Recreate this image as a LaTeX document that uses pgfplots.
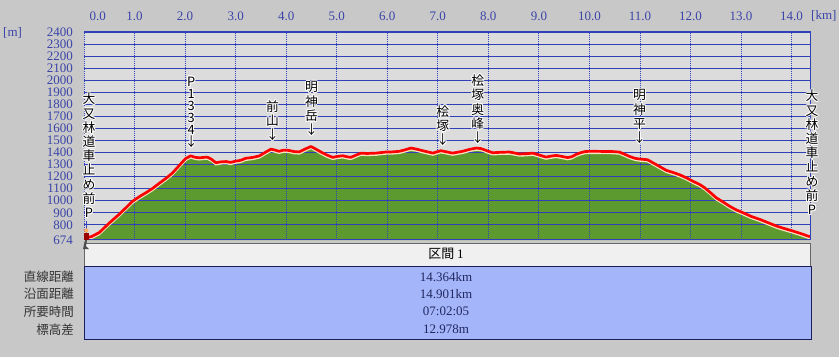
\documentclass[border=0pt]{standalone}
\usepackage{pgfplots}
\usepackage{pgfplotstable}
\pgfplotsset{compat=1.18}
\usepackage{fontspec}
\setmainfont{Liberation Serif}
\newfontfamily\jp{Noto Sans CJK JP}
\definecolor{bgout}{HTML}{C8C8C8}
\definecolor{plotbg}{HTML}{DCDCDC}
\definecolor{gridc}{HTML}{3040B8}
\definecolor{hill}{HTML}{5C9A30}
\definecolor{halo}{HTML}{F5E4C0}
\definecolor{tickc}{HTML}{3A44A8}
\definecolor{tblblue}{HTML}{A5B5F9}
\definecolor{tblhead}{HTML}{F0F0F0}
\definecolor{navy}{HTML}{1A1F5A}
\definecolor{valc}{HTML}{202860}

\pgfplotstableread{
km elev
0 688
0.15 703
0.3 735
0.5 815
0.69 885
0.85 950
0.96 995
1.1 1035
1.22 1065
1.35 1100
1.49 1145
1.62 1185
1.75 1230
1.88 1290
2.01 1350
2.11 1372
2.2 1360
2.28 1356
2.44 1362
2.52 1345
2.61 1315
2.7 1322
2.81 1325
2.9 1318
3.0 1328
3.1 1335
3.2 1352
3.35 1360
3.47 1372
3.58 1400
3.70 1428
3.78 1420
3.86 1410
3.95 1420
4.06 1417
4.15 1408
4.26 1405
4.38 1430
4.49 1450
4.58 1430
4.69 1404
4.8 1380
4.92 1360
5.02 1368
5.12 1373
5.2 1365
5.28 1360
5.38 1378
5.48 1395
5.6 1392
5.78 1395
5.97 1404
6.1 1405
6.24 1410
6.35 1422
6.47 1437
6.58 1428
6.70 1415
6.8 1405
6.90 1395
7.06 1415
7.18 1405
7.29 1395
7.4 1403
7.49 1410
7.62 1425
7.76 1437
7.85 1433
7.92 1423
8.0 1410
8.09 1398
8.25 1402
8.42 1404
8.61 1388
8.75 1390
8.88 1395
9.0 1380
9.14 1362
9.24 1370
9.34 1376
9.45 1368
9.57 1358
9.65 1365
9.74 1385
9.84 1400
9.93 1409
10.1 1410
10.26 1409
10.45 1408
10.59 1404
10.7 1385
10.79 1368
10.9 1352
10.99 1346
11.15 1340
11.32 1300
11.52 1252
11.65 1235
11.78 1216
11.92 1190
12.05 1161
12.18 1135
12.28 1107
12.4 1065
12.51 1024
12.65 988
12.77 955
12.9 925
13.04 900
13.2 870
13.37 845
13.55 815
13.70 790
13.85 770
14.03 748
14.2 725
14.364 701
}\profile

\newcommand\halo[3]{%
  \foreach \dx/\dy in {-1/0,1/0,0/1,0/-1,-0.8/-0.8,0.8/0.8,-0.8/0.8,0.8/-0.8}{%
    \node[#2, text=white, xshift=\dx pt, yshift=\dy pt] at (#1) {#3};}%
  \node[#2, text=black] at (#1) {#3};}

\tikzset{
  lbl/.style={align=center, inner sep=0pt, font=\jp\fontsize{12.8}{14.2}\selectfont},
  lbld/.style={align=center, inner sep=0pt, font=\jp\fontsize{12.8}{12}\selectfont},
}

\begin{document}
\begin{tikzpicture}[x=1pt,y=1pt]
\fill[bgout] (0,0) rectangle (839,357);
\fill[plotbg] (84,117) rectangle (810,325);
\begin{axis}[
  at={(84pt,117pt)}, anchor=south west,
  scale only axis, width=726pt, height=208pt,
  xmin=0, xmax=14.364, ymin=674, ymax=2400,
  axis line style={draw=none},
  major tick length=0pt,
  xtick={0,1,...,14},
  xticklabels={\makebox[44pt][r]{0.0},1.0,2.0,3.0,4.0,5.0,6.0,7.0,8.0,9.0,10.0,11.0,12.0,13.0,14.0},
  xticklabel pos=upper,
  xticklabel style={anchor=base, yshift=11.8pt, inner sep=0pt, text=tickc, font=\fontsize{13}{13}\selectfont},
  ytick={674,800,900,...,2400},
  yticklabel style={anchor=east, xshift=-11pt, inner sep=0pt, text=tickc, font=\fontsize{13}{13}\selectfont},
  /pgf/number format/assume math mode=true,
  /pgf/number format/1000 sep={},
  yticklabel={\pgfmathprintnumber[fixed,precision=0,1000 sep={}]{\tick}},
  clip=true,
]
\addplot[fill=hill, draw=none] table[x=km,y=elev] {\profile} \closedcycle;
\pgfplotsinvokeforeach{800,900,...,2400}{
  \draw[gridc, line width=0.9pt] (axis cs:0,#1) -- (axis cs:14.364,#1);
}
\pgfplotsinvokeforeach{0,...,14}{
  \draw[gridc, line width=0.8pt, dash pattern=on 1pt off 1pt] (axis cs:#1,674) -- (axis cs:#1,2400);
}
\addplot[draw=halo, line width=2pt, yshift=-1.7pt] table[x=km,y=elev] {\profile};
\addplot[draw=red, line width=2.7pt, line join=round] table[x=km,y=elev] {\profile};
\coordinate (p1334) at (axis cs:2.12,1440);
\coordinate (maeyama) at (axis cs:3.73,1497);
\coordinate (myojindake) at (axis cs:4.50,1539);
\coordinate (hinoki) at (axis cs:7.10,1456);
\coordinate (okumine) at (axis cs:7.79,1472);
\coordinate (myojindaira) at (axis cs:10.99,1472);
\end{axis}
% frame
\draw[gridc, line width=2pt] (84,325) -- (811,325);
\draw[gridc, line width=1.2pt] (810.4,325) -- (810.4,117);
\draw[gridc, line width=1pt] (84,117.5) -- (810,117.5);
% axis units
\node[text=tickc, font=\fontsize{13}{13}\selectfont, anchor=west, inner sep=0pt] at (3,324) {[m]};
\node[text=tickc, font=\fontsize{13}{13}\selectfont, anchor=west, inner sep=0pt] at (811,341) {[km]};
% peak labels
\halo{p1334}{lbld, anchor=south}{P\\1\\3\\3\\4\\↓}
\halo{maeyama}{lbl, anchor=south}{前\\山\\↓}
\halo{myojindake}{lbl, anchor=south}{明\\神\\岳\\↓}
\halo{hinoki}{lbl, anchor=south}{桧\\塚\\↓}
\halo{okumine}{lbl, anchor=south}{桧\\塚\\奥\\峰\\↓}
\halo{myojindaira}{lbl, anchor=south}{明\\神\\平\\↓}
\draw[gridc, line width=0.8pt] (86.5,136) -- (86.5,120);
\halo{89,264}{lbl, anchor=north}{大\\又\\林\\道\\車\\止\\め\\前\\P}
\halo{812,267}{lbl, anchor=north}{大\\又\\林\\道\\車\\止\\め\\前\\P}
% table
\fill[tblhead] (84,91) rectangle (810,114);
\draw[gray!80!black, line width=0.8pt] (84,91) rectangle (810,114);
\fill[tblblue] (84,18) rectangle (811,91);
\draw[navy, line width=0.9pt] (84,18) rectangle (811,91);
\node[font=\jp\fontsize{13}{13}\selectfont, inner sep=0pt] at (446,103.5) {区間 \textrm{1}};
\foreach \lab/\val/\yy in {直線距離/14.364km/80.3, 沿面距離/14.901km/63, 所要時間/07:02:05/45.3, 標高差/12.978m/27.7}{
  \node[font=\jp\fontsize{12.5}{12.5}\selectfont, text=black!80, anchor=east, inner sep=0pt] at (74,\yy) {\lab};
  \node[font=\fontsize{13}{13}\selectfont, text=valc, inner sep=0pt] at (446,\yy) {\val};
}
% hiker icon
\fill[black!70] (83,108) -- (85,117) -- (87,117) -- (86,111) -- (89,108) -- cycle;
\fill[red!60!black] (83.5,117) rectangle (89,124);
\fill[orange!60!white] (86.3,126.5) circle (2.2);
\end{tikzpicture}
\end{document}
